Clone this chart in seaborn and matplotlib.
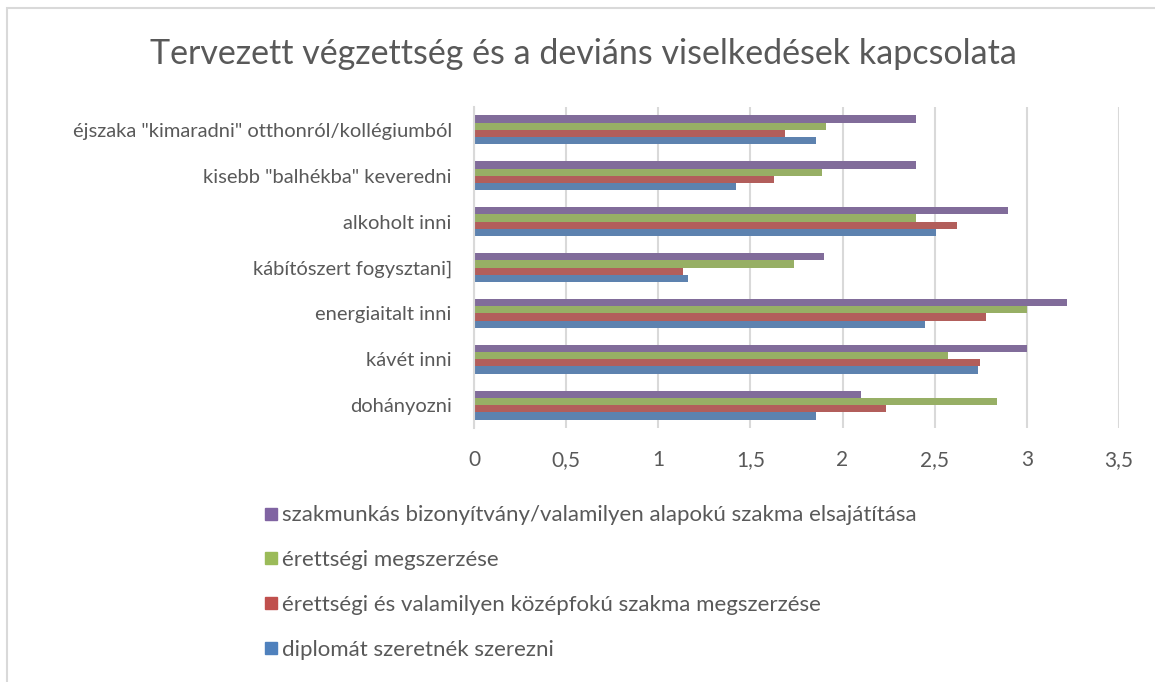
import matplotlib
matplotlib.use("Agg")
import matplotlib.pyplot as plt
from matplotlib.lines import Line2D
from matplotlib.patches import Rectangle
import pandas as pd
import seaborn as sns

sns.set_style("white")
plt.rcParams['font.family'] = ['Lato', 'DejaVu Sans']

# data
categories = ['éjszaka "kimaradni" otthonról/kollégiumból',
              'kisebb "balhékba" keveredni',
              'alkoholt inni',
              'kábítószert fogysztani]',
              'energiaitalt inni',
              'kávét inni',
              'dohányozni']

series = ['szakmunkás bizonyítvány/valamilyen alapokú szakma elsajátítása',
          'érettségi megszerzése',
          'érettségi és valamilyen középfokú szakma megszerzése',
          'diplomát szeretnék szerezni']

szakmunkas = [2.40, 2.40, 2.90, 1.90, 3.22, 3.00, 2.10]
erettsegi = [1.91, 1.89, 2.40, 1.735, 3.00, 2.57, 2.84]
erettsegi_szakma = [1.685, 1.63, 2.62, 1.134, 2.78, 2.745, 2.235]
diploma = [1.855, 1.42, 2.505, 1.163, 2.45, 2.735, 1.855]

colors = ['#8064A2', '#9BBB59', '#C0504D', '#4F81BD']
xticks = [0, 0.5, 1, 1.5, 2, 2.5, 3, 3.5]
xticklabels = ['0', '0,5', '1', '1,5', '2', '2,5', '3', '3,5']

rows = []
for name, vals in zip(series, [szakmunkas, erettsegi, erettsegi_szakma, diploma]):
    for cat, v in zip(categories, vals):
        rows.append({'kategoria': cat, 'sorozat': name, 'ertek': v})
df = pd.DataFrame(rows)

text_color = '#595959'
grid_color = '#d9d9d9'

fig = plt.figure(figsize=(11.55, 6.82), dpi=100)
ax = fig.add_axes([0.4104, 0.3724, 0.5584, 0.4707])

sns.barplot(data=df, x='ertek', y='kategoria', hue='sorozat', order=categories,
            hue_order=series, palette=colors, orient='h', width=0.63,
            linewidth=0, legend=False, ax=ax)

ax.set_xlim(0, 3.5)
ax.set_xticks(xticks)
ax.set_xticklabels(xticklabels)
ax.set_xlabel('')
ax.set_ylabel('')
ax.grid(axis='x', color=grid_color, linewidth=1.5)
ax.set_axisbelow(True)
for s in ['top', 'right', 'bottom']:
    ax.spines[s].set_visible(False)
ax.spines['left'].set_color(grid_color)
ax.spines['left'].set_linewidth(1.5)
ax.tick_params(axis='both', length=0, labelcolor=text_color)
ax.tick_params(axis='x', pad=16, labelsize=15)
ax.tick_params(axis='y', pad=16, labelsize=14.5)

fig.suptitle('Tervezett végzettség és a deviáns viselkedések kapcsolata',
             x=0.505, y=0.945, fontsize=24.5, color=text_color)

handles = [Line2D([], [], marker='s', linestyle='none', markersize=8,
                  markerfacecolor=c, markeredgecolor=c) for c in colors]
fig.legend(handles, series, loc='upper left', bbox_to_anchor=(0.221, 0.272),
           frameon=False, fontsize=16, labelcolor=text_color,
           handlelength=0.6, handletextpad=0.2, labelspacing=1.12,
           borderaxespad=0)

fig.patches.append(Rectangle((7 / 1155, -0.1), 1.2, 0.1 + (682 - 8) / 682,
                             transform=fig.transFigure, fill=False,
                             edgecolor=grid_color, linewidth=1.5))

fig.savefig('out.png', dpi=100)
